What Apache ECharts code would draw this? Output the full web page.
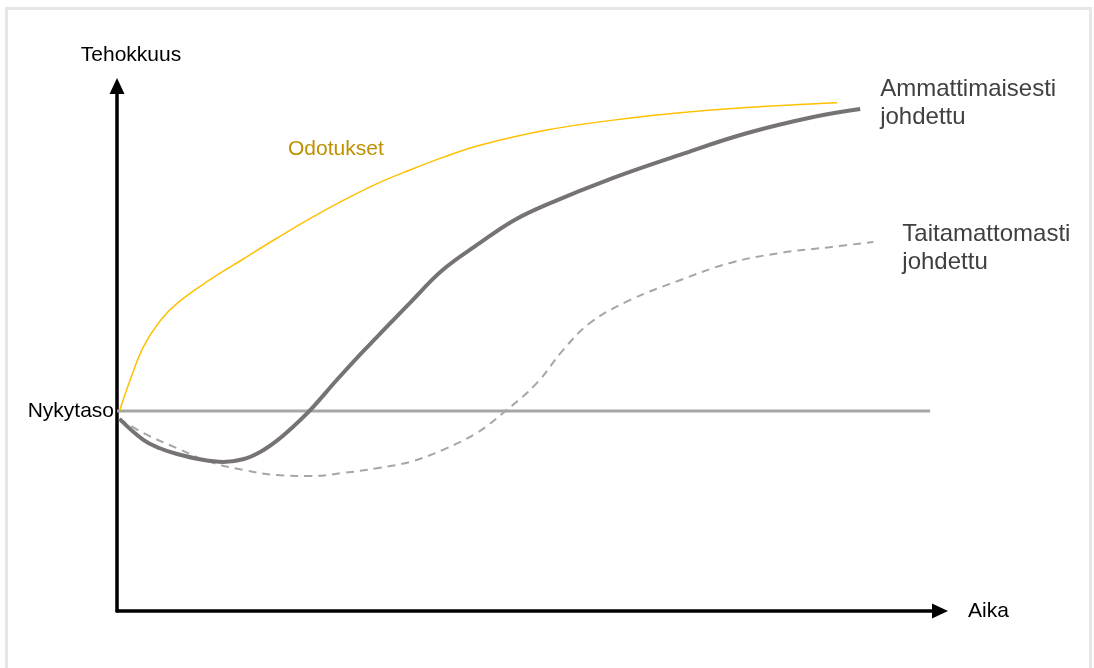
<!DOCTYPE html>
<html>
<head>
<meta charset="utf-8">
<script src="https://cdn.jsdelivr.net/npm/echarts@6/dist/echarts.min.js"></script>
<style>
  html, body { margin: 0; padding: 0; background: #fff; }
  #chart { width: 1094px; height: 668px; }
</style>
</head>
<body>
<div id="chart"></div>
<script>
// arvot luettu kuvasta (x: aika 0-100, y: tehokkuus 0-100)
var nykytaso = 38.1;
var nykytasoLoppu = 98.8;

var odotuksetX = [0.3, 1.6, 3.2, 5.2, 7.3, 11.3, 15.3, 19.4, 23.5, 27.5, 31.6, 35.6, 39.6, 44.1, 52.2, 60.3, 68.4, 76.5, 87.5];
var odotuksetY = [38.1, 44.0, 50.3, 55.2, 58.6, 63.1, 67.0, 71.0, 74.8, 78.2, 81.4, 84.0, 86.4, 88.7, 91.6, 93.5, 94.9, 95.9, 96.8];

var ammattiX = [0.3, 3.2, 5.2, 7.3, 10.4, 12.9, 15.3, 17.4, 19.4, 21.4, 23.5, 26.7, 29.5, 31.6, 35.6, 39.6, 44.1, 48.1, 52.2, 60.3, 68.4, 76.5, 84.6, 90.3];
var ammattiY = [36.6, 32.6, 31.0, 29.9, 28.8, 28.4, 28.9, 30.3, 32.4, 35.1, 38.3, 44.0, 48.8, 52.2, 58.7, 65.0, 70.1, 74.3, 77.4, 82.5, 86.9, 91.0, 94.1, 95.6];

var taitamatonX = [0.3, 3.2, 7.3, 11.3, 15.3, 19.4, 23.5, 27.5, 31.6, 35.6, 39.6, 43.7, 46.9, 51.0, 54.2, 57.5, 62.3, 68.4, 74.5, 80.6, 86.6, 91.9];
var taitamatonY = [36.6, 33.9, 31.0, 28.4, 26.9, 25.9, 25.7, 26.3, 27.2, 28.4, 30.7, 33.9, 37.7, 43.4, 49.7, 54.9, 59.2, 63.0, 66.3, 68.2, 69.3, 70.3];

function pairs(xs, ys) {
    var out = [];
    for (var i = 0; i < xs.length; i++) {
        out.push([xs[i], ys[i]]);
    }
    return out;
}

var FONT = '"Liberation Sans", Arial, sans-serif';

var chart = echarts.init(document.getElementById('chart'));

var option = {
    animation: false,
    backgroundColor: '#fff',
    grid: { left: 117, right: 154, top: 86, bottom: 57 },
    xAxis: {
        type: 'value',
        min: 0,
        max: 100,
        name: 'Aika',
        nameLocation: 'end',
        nameGap: 28,
        nameTextStyle: { color: '#000', fontSize: 21, fontFamily: FONT, padding: [4, 0, 0, 0] },
        axisLine: {
            lineStyle: { color: '#000', width: 3.5 },
            symbol: ['none', 'triangle'],
            symbolSize: [15, 16]
        },
        axisTick: { show: false },
        axisLabel: { show: false },
        splitLine: { show: false }
    },
    yAxis: {
        type: 'value',
        min: 0,
        max: 100,
        name: 'Tehokkuus',
        nameLocation: 'end',
        nameGap: 20,
        nameTextStyle: { color: '#000', fontSize: 21, fontFamily: FONT, padding: [0, 0, 0, 28] },
        axisLine: {
            lineStyle: { color: '#000', width: 3.5 },
            symbol: ['none', 'triangle'],
            symbolSize: [15, 16]
        },
        axisTick: { show: false },
        axisLabel: {
            show: true,
            customValues: [nykytaso],
            formatter: function () { return 'Nykytaso'; },
            margin: 3,
            color: '#000',
            fontSize: 21,
            fontFamily: FONT
        },
        splitLine: { show: false }
    },
    series: [
        {
            name: 'Nykytaso',
            type: 'line',
            data: [[0, nykytaso], [nykytasoLoppu, nykytaso]],
            showSymbol: false,
            lineStyle: { color: '#a6a6a6', width: 3 },
            z: 1
        },
        {
            name: 'Odotukset',
            type: 'line',
            data: pairs(odotuksetX, odotuksetY),
            smooth: 0.4,
            showSymbol: false,
            lineStyle: { color: '#ffc000', width: 1.5 },
            z: 2
        },
        {
            name: 'Taitamattomasti johdettu',
            type: 'line',
            data: pairs(taitamatonX, taitamatonY),
            smooth: 0.4,
            showSymbol: false,
            lineStyle: { color: '#a6a6a6', width: 2, type: [8, 6] },
            endLabel: {
                show: true,
                formatter: 'Taitamattomasti\njohdettu',
                distance: 29,
                offset: [0, 6],
                color: '#404040',
                fontSize: 24,
                lineHeight: 28,
                fontFamily: FONT
            },
            z: 3
        },
        {
            name: 'Ammattimaisesti johdettu',
            type: 'line',
            data: pairs(ammattiX, ammattiY),
            smooth: 0.4,
            showSymbol: false,
            lineStyle: { color: '#777373', width: 4 },
            endLabel: {
                show: true,
                formatter: 'Ammattimaisesti\njohdettu',
                distance: 20,
                offset: [0, -6],
                color: '#404040',
                fontSize: 24,
                lineHeight: 28,
                fontFamily: FONT
            },
            z: 4
        }
    ],
    graphic: [
        {
            type: 'rect',
            shape: { x: 6.5, y: 8.5, width: 1084, height: 700 },
            style: { fill: 'none', stroke: '#e6e6e6', lineWidth: 3 },
            silent: true,
            z: -1
        },
        {
            type: 'text',
            left: 288,
            top: 139,
            style: {
                text: 'Odotukset',
                fill: '#bf9000',
                fontSize: 21,
                fontFamily: FONT
            }
        }
    ]
};

chart.setOption(option);
</script>
</body>
</html>
